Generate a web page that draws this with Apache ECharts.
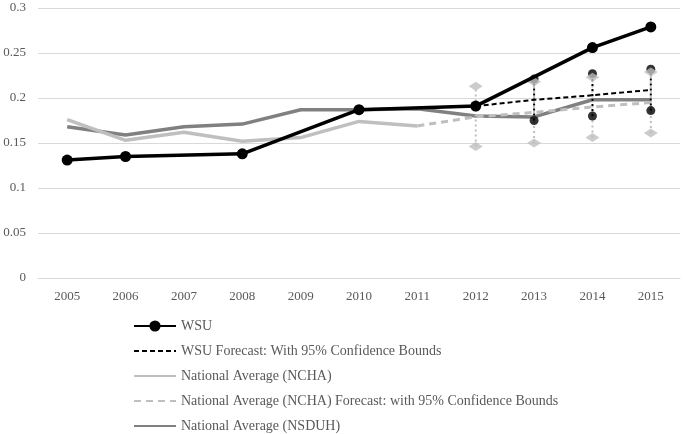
<!DOCTYPE html>
<html><head><meta charset="utf-8">
<script src="https://cdn.jsdelivr.net/npm/echarts@6/dist/echarts.min.js"></script>
<style>html,body{margin:0;padding:0;background:#fff}#c{width:683px;height:434px}</style>
</head><body><div id="c"></div>
<script>
var years = ['2005','2006','2007','2008','2009','2010','2011','2012','2013','2014','2015'];
var wsu = [0.131, 0.135, null, 0.138, null, 0.187, null, 0.191, null, 0.256, 0.279];
var wsuForecast = [null, null, null, null, null, null, null, 0.191, 0.198, 0.203, 0.209];
var wsuLower = [null, null, null, null, null, null, null, null, 0.175, 0.180, 0.186];
var wsuUpper = [null, null, null, null, null, null, null, null, 0.221, 0.227, 0.232];
var ncha = [0.176, 0.153, 0.162, 0.152, 0.156, 0.174, 0.169, null, null, null, null];
var nchaForecast = [null, null, null, null, null, null, 0.169, 0.179, 0.184, 0.190, 0.195];
var nchaLower = [null, null, null, null, null, null, null, 0.146, 0.150, 0.156, 0.161];
var nchaUpper = [null, null, null, null, null, null, null, 0.213, 0.218, 0.223, 0.229];
var nsduh = [0.168, 0.159, 0.168, 0.171, 0.187, 0.187, 0.188, 0.180, 0.179, 0.198, 0.198];
var yTicks = {min: 0, max: 0.3, interval: 0.05};

function bars(lo, hi) {
  var d = [];
  for (var i = 0; i < years.length; i++) if (lo[i] != null) d.push([i, lo[i], hi[i]]);
  return d;
}
function pts(arr) {
  var d = [];
  for (var i = 0; i < years.length; i++) if (arr[i] != null) d.push([i, arr[i]]);
  return d;
}
function barRender(color) {
  return function (params, api) {
    var a = api.coord([api.value(0), api.value(1)]);
    var b = api.coord([api.value(0), api.value(2)]);
    return {type: 'line', shape: {x1: a[0], y1: a[1], x2: b[0], y2: b[1]},
      style: {stroke: color, lineWidth: 2, lineDash: [2, 3]}};
  };
}
var font = 'Liberation Serif';
var txt = '#595959';
var hidden = {opacity: 0};
var chart = echarts.init(document.getElementById('c'));
chart.setOption({
  animation: false,
  textStyle: {fontFamily: font},
  grid: {left: 38, right: 3, top: 8, bottom: 156, containLabel: false},
  legend: {
    orient: 'vertical', left: 128, top: 314, height: 140, itemWidth: 42, itemHeight: 14, itemGap: 11,
    padding: 5,
    textStyle: {color: txt, fontSize: 14, fontFamily: font},
    data: [
      {name: 'WSU'},
      {name: 'WSU Forecast: With 95% Confidence Bounds', itemStyle: hidden},
      {name: 'National Average (NCHA)', itemStyle: hidden},
      {name: 'National Average (NCHA) Forecast: with 95% Confidence Bounds', itemStyle: hidden},
      {name: 'National Average (NSDUH)', itemStyle: hidden}
    ]
  },
  xAxis: {
    type: 'category', data: years, boundaryGap: true,
    axisLine: {lineStyle: {color: '#d9d9d9', width: 1}},
    axisTick: {show: false},
    axisLabel: {color: txt, fontSize: 13, fontFamily: font, margin: 12}
  },
  yAxis: {
    type: 'value', min: yTicks.min, max: yTicks.max, interval: yTicks.interval,
    axisLine: {show: false}, axisTick: {show: false},
    splitLine: {lineStyle: {color: '#d9d9d9', width: 1}},
    axisLabel: {color: txt, fontSize: 13, fontFamily: font, margin: 12}
  },
  series: [
    {name: 'National Average (NSDUH)', type: 'line', data: nsduh, symbol: 'none',
      itemStyle: {color: '#808080'}, lineStyle: {color: '#808080', width: 3.5}, z: 2},
    {name: 'National Average (NCHA)', type: 'line', data: ncha, symbol: 'none',
      itemStyle: {color: '#bfbfbf'}, lineStyle: {color: '#bfbfbf', width: 3.5}, z: 2},
    {name: 'National Average (NCHA) Forecast: with 95% Confidence Bounds', type: 'line', data: nchaForecast, symbol: 'none',
      itemStyle: {color: '#bfbfbf'}, lineStyle: {color: '#bfbfbf', width: 3, type: [7, 5]}, z: 2},
    {name: 'WSU Forecast: With 95% Confidence Bounds', type: 'line', data: wsuForecast, symbol: 'none',
      itemStyle: {color: '#000'}, lineStyle: {color: '#000', width: 2, type: [5, 3]}, z: 3},
    {name: 'ncha-bars', type: 'custom', data: bars(nchaLower, nchaUpper), renderItem: barRender('#bfbfbf'), z: 4},
    {name: 'wsu-bars', type: 'custom', data: bars(wsuLower, wsuUpper), renderItem: barRender('#000'), z: 4},
    {name: 'wsu-bounds', type: 'scatter', data: pts(wsuLower).concat(pts(wsuUpper)), symbol: 'circle', symbolSize: 9,
      itemStyle: {color: '#000'}, z: 5},
    {name: 'ncha-bounds', type: 'scatter', data: pts(nchaLower).concat(pts(nchaUpper)), symbol: 'diamond', symbolSize: [14, 9],
      itemStyle: {color: '#bfbfbf'}, z: 6},
    {name: 'WSU', type: 'line', data: wsu, connectNulls: true, symbol: 'circle', symbolSize: 11,
      itemStyle: {color: '#000'}, lineStyle: {color: '#000', width: 3.5}, z: 7}
  ]
});
</script></body></html>
